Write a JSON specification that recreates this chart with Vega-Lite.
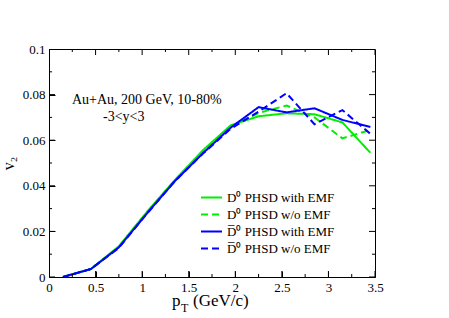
{
  "$schema": "https://vega.github.io/schema/vega-lite/v6.json",
  "width": 326,
  "height": 228,
  "autosize": {"type": "none"},
  "padding": {"left": 49, "top": 49, "right": 74, "bottom": 41},
  "background": "white",
  "config": {
    "view": {"stroke": "black", "strokeWidth": 1},
    "font": "Liberation Serif",
    "axis": {
      "domain": false,
      "tickColor": "black",
      "labelColor": "black",
      "titleColor": "black",
      "labelFont": "Liberation Serif",
      "titleFont": "Liberation Serif",
      "labelFontSize": 13,
      "labelFlush": false,
      "labelOverlap": false
    },
    "legend": {
      "orient": "none",
      "legendX": 151,
      "legendY": 140,
      "padding": 0,
      "symbolType": "stroke",
      "symbolSize": 441,
      "symbolStrokeWidth": 2,
      "labelFont": "Liberation Serif",
      "labelFontSize": 13,
      "labelColor": "black",
      "labelLimit": 0,
      "labelOffset": 4,
      "clipHeight": 17,
      "rowPadding": 0
    }
  },
  "datasets": {
    "curves": [
      {"pT": 0.15, "v2": 0.0, "series": "D0 with"},
      {"pT": 0.45, "v2": 0.0035, "series": "D0 with"},
      {"pT": 0.75, "v2": 0.0135, "series": "D0 with"},
      {"pT": 1.05, "v2": 0.0285, "series": "D0 with"},
      {"pT": 1.35, "v2": 0.0425, "series": "D0 with"},
      {"pT": 1.65, "v2": 0.0555, "series": "D0 with"},
      {"pT": 1.95, "v2": 0.0665, "series": "D0 with"},
      {"pT": 2.25, "v2": 0.0705, "series": "D0 with"},
      {"pT": 2.55, "v2": 0.0718, "series": "D0 with"},
      {"pT": 2.85, "v2": 0.0714, "series": "D0 with"},
      {"pT": 3.15, "v2": 0.0678, "series": "D0 with"},
      {"pT": 3.45, "v2": 0.0545, "series": "D0 with"},
      {"pT": 0.15, "v2": 0.0, "series": "D0 w/o"},
      {"pT": 0.45, "v2": 0.0035, "series": "D0 w/o"},
      {"pT": 0.75, "v2": 0.0132, "series": "D0 w/o"},
      {"pT": 1.05, "v2": 0.0282, "series": "D0 w/o"},
      {"pT": 1.35, "v2": 0.0422, "series": "D0 w/o"},
      {"pT": 1.65, "v2": 0.055, "series": "D0 w/o"},
      {"pT": 1.95, "v2": 0.066, "series": "D0 w/o"},
      {"pT": 2.25, "v2": 0.072, "series": "D0 w/o"},
      {"pT": 2.55, "v2": 0.0752, "series": "D0 w/o"},
      {"pT": 2.85, "v2": 0.07, "series": "D0 w/o"},
      {"pT": 3.15, "v2": 0.0608, "series": "D0 w/o"},
      {"pT": 3.45, "v2": 0.0645, "series": "D0 w/o"},
      {"pT": 0.15, "v2": 0.0, "series": "D0bar with"},
      {"pT": 0.45, "v2": 0.0035, "series": "D0bar with"},
      {"pT": 0.75, "v2": 0.013, "series": "D0bar with"},
      {"pT": 1.05, "v2": 0.0278, "series": "D0bar with"},
      {"pT": 1.35, "v2": 0.042, "series": "D0bar with"},
      {"pT": 1.65, "v2": 0.0542, "series": "D0bar with"},
      {"pT": 1.95, "v2": 0.0655, "series": "D0bar with"},
      {"pT": 2.25, "v2": 0.0745, "series": "D0bar with"},
      {"pT": 2.55, "v2": 0.0722, "series": "D0bar with"},
      {"pT": 2.85, "v2": 0.074, "series": "D0bar with"},
      {"pT": 3.15, "v2": 0.0689, "series": "D0bar with"},
      {"pT": 3.45, "v2": 0.0658, "series": "D0bar with"},
      {"pT": 0.15, "v2": 0.0, "series": "D0bar w/o"},
      {"pT": 0.45, "v2": 0.0035, "series": "D0bar w/o"},
      {"pT": 0.75, "v2": 0.0128, "series": "D0bar w/o"},
      {"pT": 1.05, "v2": 0.0277, "series": "D0bar w/o"},
      {"pT": 1.35, "v2": 0.042, "series": "D0bar w/o"},
      {"pT": 1.65, "v2": 0.054, "series": "D0bar w/o"},
      {"pT": 1.95, "v2": 0.065, "series": "D0bar w/o"},
      {"pT": 2.25, "v2": 0.0725, "series": "D0bar w/o"},
      {"pT": 2.55, "v2": 0.0806, "series": "D0bar w/o"},
      {"pT": 2.85, "v2": 0.067, "series": "D0bar w/o"},
      {"pT": 3.15, "v2": 0.0732, "series": "D0bar w/o"},
      {"pT": 3.45, "v2": 0.0628, "series": "D0bar w/o"}
    ],
    "xticks": [
      {"v": 0, "k": "major"}, {"v": 0.25, "k": "minor"}, {"v": 0.5, "k": "major"}, {"v": 0.75, "k": "minor"},
      {"v": 1, "k": "major"}, {"v": 1.25, "k": "minor"}, {"v": 1.5, "k": "major"}, {"v": 1.75, "k": "minor"},
      {"v": 2, "k": "major"}, {"v": 2.25, "k": "minor"}, {"v": 2.5, "k": "major"}, {"v": 2.75, "k": "minor"},
      {"v": 3, "k": "major"}, {"v": 3.25, "k": "minor"}, {"v": 3.5, "k": "major"}
    ],
    "yticks": [
      {"v": 0, "k": "major"}, {"v": 0.01, "k": "minor"}, {"v": 0.02, "k": "major"}, {"v": 0.03, "k": "minor"},
      {"v": 0.04, "k": "major"}, {"v": 0.05, "k": "minor"}, {"v": 0.06, "k": "major"}, {"v": 0.07, "k": "minor"},
      {"v": 0.08, "k": "major"}, {"v": 0.09, "k": "minor"}, {"v": 0.1, "k": "major"}
    ]
  },
  "layer": [
    {
      "data": {"name": "curves"},
      "mark": {"type": "line", "strokeWidth": 2, "clip": true},
      "encoding": {
        "x": {
          "field": "pT", "type": "quantitative",
          "scale": {"domain": [0, 3.5], "nice": false},
          "axis": {
            "orient": "bottom",
            "title": null,
            "grid": false,
            "values": [0, 0.5, 1, 1.5, 2, 2.5, 3, 3.5],
            "tickSize": -6,
            "labelPadding": 10,
            "format": "~g"
          }
        },
        "y": {
          "field": "v2", "type": "quantitative",
          "scale": {"domain": [0, 0.1], "nice": false},
          "axis": {
            "orient": "left",
            "title": "v₂",
            "titleFontSize": 16,
            "titleFontWeight": "normal",
            "titleAngle": -90,
            "titleBaseline": "alphabetic",
            "titleX": -36,
            "titleY": 114,
            "titleAlign": "center",
            "grid": false,
            "values": [0, 0.02, 0.04, 0.06, 0.08, 0.1],
            "tickSize": -6,
            "labelPadding": 10,
            "format": "~g"
          }
        },
        "color": {
          "field": "series", "type": "nominal",
          "scale": {
            "domain": ["D0 with", "D0 w/o", "D0bar with", "D0bar w/o"],
            "range": ["#00ee00", "#00ee00", "#0000ff", "#0000ff"]
          },
          "legend": {
            "title": null,
            "labelExpr": "datum.label == 'D0 with' ? 'D⁰ PHSD with EMF' : datum.label == 'D0 w/o' ? 'D⁰ PHSD w/o EMF' : datum.label == 'D0bar with' ? 'D̅⁰ PHSD with EMF' : 'D̅⁰ PHSD w/o EMF'"
          }
        },
        "strokeDash": {
          "field": "series", "type": "nominal",
          "scale": {
            "domain": ["D0 with", "D0 w/o", "D0bar with", "D0bar w/o"],
            "range": [[1, 0], [7, 4], [1, 0], [7, 4]]
          },
          "legend": {
            "title": null,
            "labelExpr": "datum.label == 'D0 with' ? 'D⁰ PHSD with EMF' : datum.label == 'D0 w/o' ? 'D⁰ PHSD w/o EMF' : datum.label == 'D0bar with' ? 'D̅⁰ PHSD with EMF' : 'D̅⁰ PHSD w/o EMF'"
          }
        }
      }
    },
    {
      "data": {"name": "xticks"},
      "mark": {"type": "tick", "orient": "vertical", "thickness": 1, "color": "black", "opacity": 1, "clip": true},
      "encoding": {
        "x": {"field": "v", "type": "quantitative", "axis": null, "scale": {"domain": [0, 3.5], "nice": false}},
        "y": {"datum": 0, "type": "quantitative", "axis": null, "scale": {"domain": [0, 0.1], "nice": false}},
        "size": {"field": "k", "type": "nominal", "legend": null, "scale": {"domain": ["major", "minor"], "range": [12, 6]}}
      }
    },
    {
      "data": {"name": "xticks"},
      "mark": {"type": "tick", "orient": "vertical", "thickness": 1, "color": "black", "opacity": 1, "clip": true},
      "encoding": {
        "x": {"field": "v", "type": "quantitative", "axis": null, "scale": {"domain": [0, 3.5], "nice": false}},
        "y": {"datum": 0.1, "type": "quantitative", "axis": null, "scale": {"domain": [0, 0.1], "nice": false}},
        "size": {"field": "k", "type": "nominal", "legend": null, "scale": {"domain": ["major", "minor"], "range": [12, 6]}}
      }
    },
    {
      "data": {"name": "yticks"},
      "mark": {"type": "tick", "orient": "horizontal", "thickness": 1, "color": "black", "opacity": 1, "clip": true},
      "encoding": {
        "y": {"field": "v", "type": "quantitative", "axis": null, "scale": {"domain": [0, 0.1], "nice": false}},
        "x": {"datum": 0, "type": "quantitative", "axis": null, "scale": {"domain": [0, 3.5], "nice": false}},
        "size": {"field": "k", "type": "nominal", "legend": null, "scale": {"domain": ["major", "minor"], "range": [12, 6]}}
      }
    },
    {
      "data": {"name": "yticks"},
      "mark": {"type": "tick", "orient": "horizontal", "thickness": 1, "color": "black", "opacity": 1, "clip": true},
      "encoding": {
        "y": {"field": "v", "type": "quantitative", "axis": null, "scale": {"domain": [0, 0.1], "nice": false}},
        "x": {"datum": 3.5, "type": "quantitative", "axis": null, "scale": {"domain": [0, 3.5], "nice": false}},
        "size": {"field": "k", "type": "nominal", "legend": null, "scale": {"domain": ["major", "minor"], "range": [12, 6]}}
      }
    },
    {
      "data": {"values": [{"label": "Au+Au, 200 GeV, 10-80%"}]},
      "mark": {"type": "text", "align": "left", "baseline": "middle", "fontSize": 14, "font": "Liberation Serif", "color": "black"},
      "encoding": {
        "x": {"datum": 0.247, "type": "quantitative", "axis": null, "scale": {"domain": [0, 3.5], "nice": false}},
        "y": {"datum": 0.0776, "type": "quantitative", "axis": null, "scale": {"domain": [0, 0.1], "nice": false}},
        "text": {"field": "label"}
      }
    },
    {
      "data": {"values": [{"label": "-3<y<3"}]},
      "mark": {"type": "text", "align": "left", "baseline": "middle", "fontSize": 14, "font": "Liberation Serif", "color": "black"},
      "encoding": {
        "x": {"datum": 0.58, "type": "quantitative", "axis": null, "scale": {"domain": [0, 3.5], "nice": false}},
        "y": {"datum": 0.0702, "type": "quantitative", "axis": null, "scale": {"domain": [0, 0.1], "nice": false}},
        "text": {"field": "label"}
      }
    },
    {
      "data": {"values": [{"label": "p"}]},
      "mark": {"type": "text", "align": "left", "baseline": "alphabetic", "fontSize": 17, "font": "Liberation Serif", "color": "black"},
      "encoding": {
        "x": {"datum": 1.321, "type": "quantitative", "axis": null, "scale": {"domain": [0, 3.5], "nice": false}},
        "y": {"datum": -0.0127, "type": "quantitative", "axis": null, "scale": {"domain": [0, 0.1], "nice": false}},
        "text": {"field": "label"}
      }
    },
    {
      "data": {"values": [{"label": "T"}]},
      "mark": {"type": "text", "align": "left", "baseline": "alphabetic", "fontSize": 12, "font": "Liberation Serif", "color": "black"},
      "encoding": {
        "x": {"datum": 1.418, "type": "quantitative", "axis": null, "scale": {"domain": [0, 3.5], "nice": false}},
        "y": {"datum": -0.0154, "type": "quantitative", "axis": null, "scale": {"domain": [0, 0.1], "nice": false}},
        "text": {"field": "label"}
      }
    },
    {
      "data": {"values": [{"label": "(GeV/c)"}]},
      "mark": {"type": "text", "align": "left", "baseline": "alphabetic", "fontSize": 17, "font": "Liberation Serif", "color": "black"},
      "encoding": {
        "x": {"datum": 1.547, "type": "quantitative", "axis": null, "scale": {"domain": [0, 3.5], "nice": false}},
        "y": {"datum": -0.0127, "type": "quantitative", "axis": null, "scale": {"domain": [0, 0.1], "nice": false}},
        "text": {"field": "label"}
      }
    }
  ],
  "resolve": {"axis": {"x": "independent", "y": "independent"}}
}
